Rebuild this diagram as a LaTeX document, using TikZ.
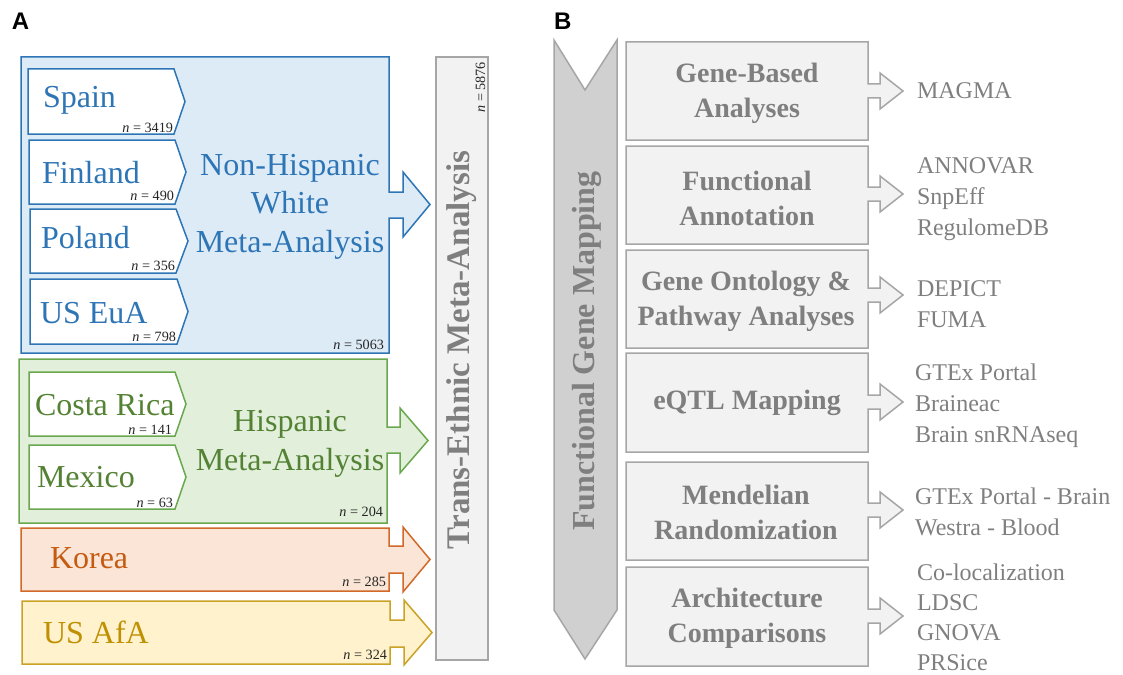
\documentclass[tikz,border=0pt]{standalone}
\usepackage{fontspec}
\setmainfont{Liberation Serif}
\newfontfamily\panelfont{Liberation Sans}
\definecolor{bline}{HTML}{2E75B6}
\definecolor{bfill}{HTML}{DDEBF7}
\definecolor{gline}{HTML}{6AA84F}
\definecolor{gfill}{HTML}{E2EFDA}
\definecolor{gtext}{HTML}{548235}
\definecolor{oline}{HTML}{D0692A}
\definecolor{ofill}{HTML}{FBE5D6}
\definecolor{otext}{HTML}{C55A11}
\definecolor{yline}{HTML}{C9A227}
\definecolor{yfill}{HTML}{FFF2CC}
\definecolor{ytext}{HTML}{BF9000}
\definecolor{gyline}{HTML}{A6A6A6}
\definecolor{gyfill}{HTML}{F2F2F2}
\definecolor{gytext}{HTML}{7F7F7F}
\definecolor{chevfill}{HTML}{D0D0D0}
\definecolor{ncol}{HTML}{262626}
\newcommand\ctrybox[6]{%
  \draw[#1] (#2,#3) -- (#4,#3) -- (#6,{(#3+#5)/2}) -- (#4,#5) -- (#2,#5) -- cycle;}
\newcommand\toolbox[3]{%
  \pgfmathsetmacro\cy{#3}%
  \draw[toolshape] (626,#1) -- (868,#1) -- (868,\cy-7) -- (880,\cy-7) -- (880,\cy-18)
    -- (903,\cy) -- (880,\cy+18) -- (880,\cy+7) -- (868,\cy+7) -- (868,#2) -- (626,#2) -- cycle;}
\tikzset{
  every node/.style={inner sep=0pt, outer sep=0pt},
  cname/.style={font=\fontsize{32}{38}\selectfont, anchor=base west},
  grptext/.style={font=\fontsize{32}{38.5}\selectfont, align=center, anchor=base},
  nlab/.style={font=\fontsize{14.2}{16}\selectfont, text=ncol, anchor=base east},
  panel/.style={font=\panelfont\bfseries\fontsize{24}{28}\selectfont, anchor=base west},
  boxtext/.style={font=\bfseries\fontsize{28}{35}\selectfont, text=gytext, align=center},
  tooltext/.style={font=\fontsize{24}{31}\selectfont, text=gytext, align=left, anchor=west},
  bluebox/.style={draw=bline, fill=bfill, line width=1.5pt, line join=miter},
  bluectry/.style={draw=bline, fill=white, line width=1.5pt},
  greenbox/.style={draw=gline, fill=gfill, line width=1.5pt},
  greenctry/.style={draw=gline, fill=white, line width=1.5pt},
  orangebox/.style={draw=oline, fill=ofill, line width=1.5pt},
  yellowbox/.style={draw=yline, fill=yfill, line width=1.5pt},
  greybar/.style={draw=gyline, fill=gyfill, line width=1.5pt},
  chevron/.style={draw=gyline, fill=chevfill, line width=1.5pt},
  toolshape/.style={draw=gyline, fill=gyfill, line width=1.5pt},
}
\begin{document}
\begin{tikzpicture}[x=1pt, y=-1pt]
\useasboundingbox (0,0) rectangle (1123,674);

% ---------------- Panel A ----------------
\node[panel] (labA) at (12,30) {A};

% Non-Hispanic White group
\draw[bluebox] (21,57) -- (389,57) -- (389,192) -- (403,192) -- (403,172) -- (430,204.5)
  -- (403,237) -- (403,218) -- (389,218) -- (389,353) -- (21,353) -- cycle;
\ctrybox{bluectry}{28}{69}{174}{134}{185}
\ctrybox{bluectry}{29}{140}{175}{204}{186}
\ctrybox{bluectry}{30}{209}{176}{273}{188}
\ctrybox{bluectry}{30}{279}{177}{344}{188}
\node[cname, text=bline] (spain) at (43,108) {Spain};
\node[cname, text=bline] (finland) at (42,183) {Finland};
\node[cname, text=bline] (poland) at (41,248) {Poland};
\node[cname, text=bline] (useua) at (40,323) {US EuA};
\node[nlab] (nspain) at (173,132) {\textit{n} = 3419};
\node[nlab] (nfinland) at (174,200) {\textit{n} = 490};
\node[nlab] (npoland) at (175,270) {\textit{n} = 356};
\node[nlab] (nuseua) at (176,341) {\textit{n} = 798};
\node[grptext, text=bline] (nhw) at (290,252) {Non-Hispanic\\White\\Meta-Analysis};
\node[nlab] (nnhw) at (384,349) {\textit{n} = 5063};

% Hispanic group
\draw[greenbox] (19,359) -- (387,359) -- (387,427) -- (400,427) -- (400,408) -- (428,440.5)
  -- (400,473) -- (400,453) -- (387,453) -- (387,523) -- (19,523) -- cycle;
\ctrybox{greenctry}{29}{372}{175}{436}{186}
\ctrybox{greenctry}{29}{445}{175}{509}{186}
\node[cname, text=gtext] (costarica) at (35,415) {Costa Rica};
\node[cname, text=gtext] (mexico) at (37,487) {Mexico};
\node[nlab] (ncostarica) at (172,434) {\textit{n} = 141};
\node[nlab] (nmexico) at (173,507) {\textit{n} = 63};
\node[grptext, text=gtext] (hisp) at (290,470) {Hispanic\\Meta-Analysis};
\node[nlab] (nhisp) at (383,516) {\textit{n} = 204};

% Korea
\draw[orangebox] (21,528) -- (389,528) -- (389,546) -- (403,546) -- (403,527) -- (430,559.5)
  -- (403,592) -- (403,573) -- (389,573) -- (389,591) -- (21,591) -- cycle;
\node[cname, text=otext] (korea) at (50,568) {Korea};
\node[nlab] (nkorea) at (386,586) {\textit{n} = 285};

% US AfA
\draw[yellowbox] (22,601) -- (390,601) -- (390,620) -- (404,620) -- (404,600) -- (432,632.5)
  -- (404,665) -- (404,647) -- (390,647) -- (390,664) -- (22,664) -- cycle;
\node[cname, text=ytext] (usafa) at (43,643) {US AfA};
\node[nlab] (nusafa) at (387,659) {\textit{n} = 324};

% Trans-Ethnic bar
\draw[greybar] (436,57) rectangle (488,660);
\node[font=\bfseries\fontsize{33}{38}\selectfont, text=gytext, rotate=90] (trans) at (462,350) {Trans-Ethnic Meta-Analysis};
\node[nlab, rotate=90] (ntrans) at (485,62) {\textit{n} = 5876};

% ---------------- Panel B ----------------
\node[panel] (labB) at (554,30) {B};

\draw[chevron] (554,40) -- (585,90) -- (617,40) -- (617,610) -- (585,659) -- (554,610) -- cycle;
\node[font=\bfseries\fontsize{32}{38}\selectfont, text=gytext, rotate=90] (fgm) at (587,351) {Functional Gene Mapping};

\toolbox{42}{140}{91}
\toolbox{146}{244}{194}
\toolbox{250}{348}{295}
\toolbox{353}{452}{402}
\toolbox{462}{560}{510}
\toolbox{567}{666}{616}

\node[boxtext] (gba) at (747,93) {Gene-Based\\Analyses};
\node[boxtext] (fa) at (747,198) {Functional\\Annotation};
\node[boxtext] (go) at (746,301) {Gene Ontology \&\\Pathway Analyses};
\node[boxtext] (eqtl) at (747,403) {eQTL Mapping};
\node[boxtext] (mr) at (746,512) {Mendelian\\Randomization};
\node[boxtext] (arch) at (747,618) {Architecture\\Comparisons};

\node[tooltext] (t1) at (917,91) {MAGMA};
\node[tooltext] (t2) at (917,199) {ANNOVAR\\SnpEff\\RegulomeDB};
\node[tooltext] (t3) at (917,304) {DEPICT\\FUMA};
\node[tooltext] (t4) at (915,406) {GTEx Portal\\Braineac\\Brain snRNAseq};
\node[tooltext] (t5) at (915,512) {GTEx Portal - Brain\\Westra - Blood};
\node[tooltext, font=\fontsize{24}{30}\selectfont] (t6) at (917,617) {Co-localization\\LDSC\\GNOVA\\PRSice};
\end{tikzpicture}
\end{document}
